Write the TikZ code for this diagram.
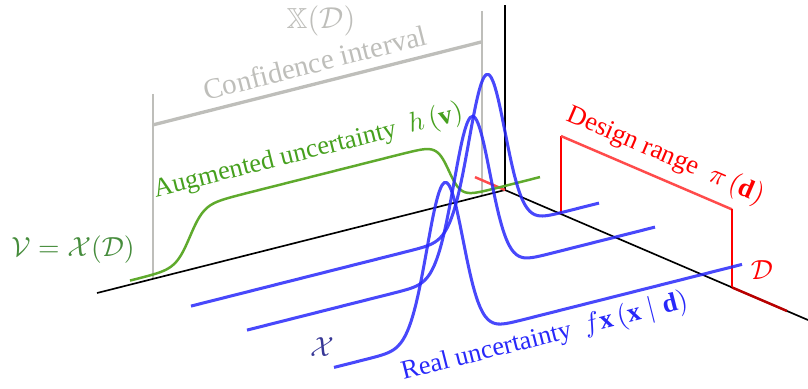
\documentclass[tikz,border=0pt]{standalone}
\usepackage{amsmath}
\usepackage{amssymb}
\usepackage{fontspec}
\setmainfont{Liberation Serif}
\usepackage{xcolor}
\usetikzlibrary{calc}
\definecolor{RealBlue}{RGB}{40,40,250}
\definecolor{AugGreen}{RGB}{95,170,45}
\definecolor{AugText}{RGB}{70,160,30}
\definecolor{SetGreen}{RGB}{70,140,60}
\definecolor{CIGray}{RGB}{190,190,186}
\definecolor{RangeRed}{RGB}{255,75,75}
\definecolor{AxisRed}{RGB}{185,0,0}
\definecolor{NavyX}{RGB}{55,55,150}

\begin{document}
\begin{tikzpicture}[x={(0.362pt,0.0914pt)}, y={(0pt,0.362pt)}, z={(0.362pt,-0.1553pt)},
  axis/.style={line width=0.6pt, black},
  ci/.style={CIGray, line width=0.8pt},
  pdf/.style={RealBlue, line width=1.1pt, opacity=0.85},
  aug/.style={AugGreen, line width=0.9pt},
  lbl/.style={font=\fontsize{9.6}{11}\selectfont}]
  \useasboundingbox (-182.81pt,-71.68pt) rectangle (109.69pt,68.78pt);
  \coordinate (O) at (0,0,0);
  % confidence interval
  \draw[ci] (-352,185,0) -- (-352,0,0);
  \draw[ci] (-23,185,0) -- (-23,0,0);
  \draw[ci, line width=1.2pt] (-352,154,0) -- (-23,154,0);
  % axes
  \draw[axis] (-408,0,0) -- (O) -- (0,0,303);
  \draw[axis] (O) -- (0,185,0);
  \draw[RangeRed, line width=0.9pt] (0,0,-30) -- (O);
  \draw[AxisRed, line width=0.9pt] (0,0,227) -- (0,0,282);
  % augmented uncertainty
  \draw[aug] plot[domain=-369:41, samples=160, smooth]
    (\x, {58/((1+exp(min(9,-(\x+309)/7)))*(1+exp(min(9,(\x+50)/6))))}, -6);
  % design range
  \draw[red, line width=0.9pt] (0,0,56) -- (0,78,56);
  \draw[RangeRed, line width=0.9pt] (0,78,56) -- (0,78,227);
  \draw[red, line width=0.9pt] (0,78,227) -- (0,0,227);
  % real uncertainty
  \foreach \d/\m in {54/-72, 110/-143, 197/-257}
    \draw[pdf] plot[domain=-368:40, samples=160, smooth]
      (\x, {157*exp(max(-15,-0.5*((\x-(\m))/18)*((\x-(\m))/18)))}, \d);
  % labels
  \node[CIGray, font=\fontsize{10.5}{12}\selectfont] (XD) at (-184,216,0) {$\mathbb{X}(\mathcal{D})$};
  \node[CIGray, anchor=base, rotate=14.17, font=\fontsize{10.5}{12}\selectfont] (ci) at (-187.5,165,0) {Confidence interval};
  \node[AugText, lbl, anchor=base, rotate=14.17] (aug) at (-195,81,0) {Augmented uncertainty~~$h\,(\mathbf{v})$};
  \node[SetGreen, font=\fontsize{10}{12}\selectfont] (V) at (-432,49,0) {$\mathcal{V}=\mathcal{X}(\mathcal{D})$};
  \node[red, lbl, anchor=base, rotate=-23.2] (range) at (0,96,158) {Design range~~$\pi\,(\mathbf{d})$};
  \node[red, font=\fontsize{10}{12}\selectfont] (D) at (30,10,227) {$\mathcal{D}$};
  \node[NavyX, font=\fontsize{10}{12}\selectfont] (X) at (-380,23,197) {$\mathcal{X}$};
  \node[RealBlue, lbl, anchor=base, rotate=14.17] (real) at (-155.5,-30,197) {Real uncertainty~~$f\mathbf{x}\,(\mathbf{x}\mid\mathbf{d})$};
\end{tikzpicture}
\end{document}
